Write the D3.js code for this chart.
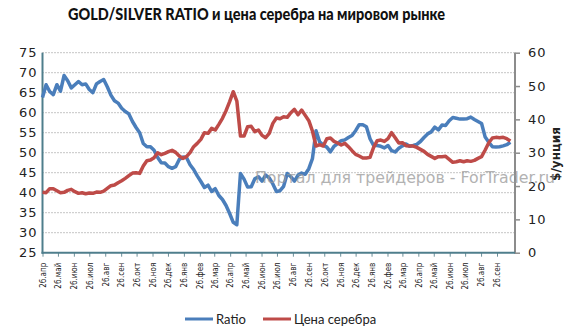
<!DOCTYPE html>
<html><head><meta charset="utf-8">
<script src="https://cdn.jsdelivr.net/npm/d3@7"></script>
<style>body{margin:0;background:#fff;}svg{display:block;}</style>
</head><body>
<svg id="c" width="572" height="332"></svg>
<script>
const startDate = new Date(2010, 3, 26);
const ratio = [63.8,67.0,65.3,64.5,67.0,65.4,69.3,68.0,66.2,67.0,67.8,67.0,67.2,65.8,65.0,67.2,67.8,68.3,66.5,64.4,63.0,62.4,61.1,60.3,59.7,57.8,56.3,55.0,52.3,51.5,51.5,50.6,48.8,47.5,47.4,46.5,46.1,46.5,48.3,48.9,48.8,47.0,45.8,
44.2,42.8,41.3,41.9,40.3,41.0,39.3,38.3,36.8,34.8,32.6,32.0,44.8,43.4,41.4,41.5,43.5,44.0,42.9,44.4,43.7,42.2,40.3,40.5,41.6,44.8,44.0,42.9,44.4,44.9,44.6,46.0,48.5,55.5,52.7,51.9,51.4,50.2,51.6,52.3,53.0,53.2,53.8,54.3,
55.5,57.0,57.0,56.5,53.5,51.8,51.8,51.6,51.2,51.8,50.5,50.2,51.1,51.7,52.2,51.6,51.8,52.1,52.8,53.8,54.7,55.2,56.4,55.7,56.9,56.8,58.0,58.8,58.6,58.4,58.4,58.5,58.9,58.3,57.8,57.3,53.9,52.6,51.5,51.4,51.5,51.7,52.0,52.6];
const silver = [18.1,18.0,19.2,19.2,18.6,18.0,18.1,18.7,19.0,18.3,17.8,18.0,17.7,17.9,17.8,18.2,18.1,18.5,19.3,20.1,20.3,21.0,21.6,22.3,23.1,23.9,24.0,23.8,26.0,27.6,27.8,28.5,30.0,29.4,29.8,30.3,30.7,30.1,29.0,28.3,28.8,30.0,31.8,
32.8,34.0,36.0,35.8,37.3,36.8,38.5,40.3,42.6,45.3,48.3,45.5,35.0,35.0,37.8,37.9,36.3,36.8,35.2,34.5,35.8,38.8,40.4,40.2,40.8,40.6,42.0,43.0,41.4,42.8,41.2,39.6,36.5,32.0,32.4,32.0,34.2,34.4,33.4,32.9,32.3,32.8,31.8,30.6,
29.5,29.0,28.4,28.4,28.6,31.6,33.6,33.8,33.4,34.2,36.0,34.5,32.9,33.0,32.1,32.0,32.0,31.6,31.0,30.4,29.5,28.9,28.3,28.8,28.8,28.9,28.0,27.1,27.3,27.6,27.3,27.6,27.4,27.7,28.3,28.8,30.8,33.0,34.4,34.6,34.5,34.6,34.2,33.5];
const monthLabels = ["апр","май","июн","июл","авг","сен","окт","ноя","дек","янв","фев","мар","апр","май","июн","июл","авг","сен","окт","ноя","дек","янв","фев","мар","апр","май","июн","июл","авг","сен"];
const leftTicks = [25,30,35,40,45,50,55,60,65,70,75];
const rightTicks = [0,10,20,30,40,50,60];
const title = "GOLD/SILVER RATIO и цена серебра на мировом рынке";
const seriesNames = ["Ratio","Цена серебра"];
const colors = ["#4a7ebb","#be4b48"];

const svg = d3.select("#c");
const L = 42.5, R = 515, T = 52.7, B = 252.7;
const x = d3.scaleTime().domain([startDate, new Date(2012, 9, 31)]).range([L, R]);
const yL = d3.scaleLinear().domain([25, 75]).range([B, T]);
const yR = d3.scaleLinear().domain([0, 60]).range([B, T]);
const dates = ratio.map((_, i) => d3.timeDay.offset(startDate, 7 * i));

// title
svg.append("text").attr("x", 68).attr("y", 20).attr("textLength", 377).attr("lengthAdjust", "spacingAndGlyphs")
  .style("font-family", "Lato, 'Open Sans', sans-serif").style("font-weight", "900").style("font-size", "16px").style("fill", "#111")
  .text(title);

// gridlines
svg.append("g").selectAll("line").data(leftTicks.slice(1)).join("line")
  .attr("x1", L).attr("x2", R).attr("y1", d => yL(d)).attr("y2", d => yL(d))
  .attr("stroke", "#8a8a8a").attr("stroke-width", 1).attr("stroke-dasharray", "1,2");

// left axis
const gl = svg.append("g").attr("transform", `translate(${L - 5},0)`)
  .call(d3.axisLeft(yL).tickValues(leftTicks).tickSize(0).tickPadding(0));
gl.select(".domain").remove();
gl.selectAll("text").style("font-family", "'DejaVu Sans', Verdana, sans-serif").style("font-size", "13px")
  .style("letter-spacing", "1px").style("fill", "#222");

// right axis
const gr = svg.append("g").attr("transform", `translate(${R},0)`)
  .call(d3.axisRight(yR).tickValues(rightTicks).tickSize(5).tickPadding(8));
gr.select(".domain").remove();
gr.selectAll("line").attr("stroke", "#8c8c8c").attr("stroke-width", 1.5);
gr.selectAll("text").style("font-family", "'DejaVu Sans', Verdana, sans-serif").style("font-size", "13px")
  .style("letter-spacing", "1px").style("fill", "#222");

// right axis title
svg.append("text").attr("transform", "translate(560,154) rotate(-90)").attr("text-anchor", "middle")
  .style("font-family", "'DejaVu Sans', Verdana, sans-serif").style("font-weight", "bold").style("font-size", "12px").style("fill", "#222")
  .text("$/унция");

// x axis
const tickDates = monthLabels.map((m, i) => new Date(2010, 3 + i, 26));
const gx = svg.append("g").attr("transform", `translate(0,${B})`)
  .call(d3.axisBottom(x).tickValues(tickDates).tickSize(4).tickFormat((d, i) => "26." + monthLabels[i]));
gx.select(".domain").remove();
gx.selectAll("line").attr("stroke", "#6d8f99").attr("stroke-width", 1);
gx.selectAll("text").attr("transform", "rotate(-90)").attr("text-anchor", "end").attr("x", -10).attr("y", 0).attr("dy", "0.35em")
  .style("font-family", "'DejaVu Sans Condensed', 'DejaVu Sans', sans-serif").style("font-size", "8px").style("fill", "#222");

// axis lines
svg.append("line").attr("x1", R).attr("x2", R).attr("y1", T).attr("y2", B + 1).attr("stroke", "#8c8c8c").attr("stroke-width", 2);
svg.append("line").attr("x1", L).attr("x2", L).attr("y1", T).attr("y2", B + 1).attr("stroke", "#4f7e8c").attr("stroke-width", 2);
svg.append("line").attr("x1", L - 1).attr("x2", R).attr("y1", B).attr("y2", B).attr("stroke", "#4f7e8c").attr("stroke-width", 2);

// lines
const lineR = d3.line().x((d, i) => x(dates[i])).y(d => yL(d));
const lineS = d3.line().x((d, i) => x(dates[i])).y(d => yR(d));
svg.append("path").datum(ratio).attr("d", lineR).attr("fill", "none").attr("stroke", colors[0]).attr("stroke-width", 3.5).attr("stroke-linejoin", "round");
svg.append("path").datum(silver).attr("d", lineS).attr("fill", "none").attr("stroke", colors[1]).attr("stroke-width", 3.5).attr("stroke-linejoin", "round");

// watermark
svg.append("text").attr("x", 255).attr("y", 183).attr("textLength", 300).attr("lengthAdjust", "spacingAndGlyphs")
  .style("font-family", "'DejaVu Sans', sans-serif").style("font-size", "15px").style("fill", "#999").style("opacity", 0.75)
  .text("Портал для трейдеров - ForTrader.ru");

// legend
const lg = svg.append("g");
const legX = [185, 263];
seriesNames.forEach((n, i) => {
  lg.append("line").attr("x1", legX[i]).attr("x2", legX[i] + 28).attr("y1", 319).attr("y2", 319).attr("stroke", colors[i]).attr("stroke-width", 3);
  lg.append("text").attr("x", legX[i] + 31).attr("y", 324).style("font-family", "Lato, 'Open Sans', sans-serif").style("font-size", "13px").style("fill", "#222").text(n);
});
</script>
</body></html>
